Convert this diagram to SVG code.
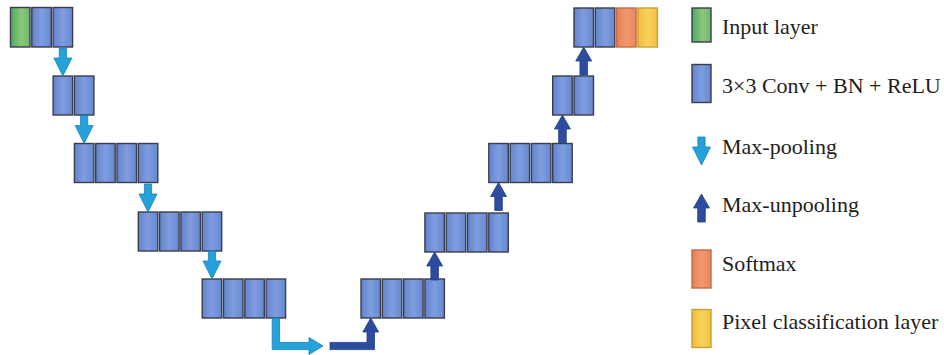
<svg xmlns="http://www.w3.org/2000/svg" width="944" height="355" viewBox="0 0 944 355">
  <defs>
    <linearGradient id="gBlue" x1="0" y1="0" x2="1" y2="0">
      <stop offset="0" stop-color="#6283cc"/>
      <stop offset="0.5" stop-color="#7f9de0"/>
      <stop offset="1" stop-color="#6688d0"/>
    </linearGradient>
    <linearGradient id="gGreen" x1="0" y1="0" x2="1" y2="0">
      <stop offset="0" stop-color="#4aa868"/>
      <stop offset="0.55" stop-color="#8cc878"/>
      <stop offset="1" stop-color="#6db870"/>
    </linearGradient>
    <linearGradient id="gOrange" x1="0" y1="0" x2="1" y2="0">
      <stop offset="0" stop-color="#e67f58"/>
      <stop offset="0.5" stop-color="#f09a6c"/>
      <stop offset="1" stop-color="#e88660"/>
    </linearGradient>
    <linearGradient id="gYellow" x1="0" y1="0" x2="1" y2="0">
      <stop offset="0" stop-color="#f0bb3c"/>
      <stop offset="0.5" stop-color="#f8d35c"/>
      <stop offset="1" stop-color="#f1c044"/>
    </linearGradient>
    <!-- arrow shapes, tip at origin -->
    <path id="downArrow" d="M-3.6,-28 H3.6 V-18 H9 L0,0 L-9,-18 H-3.6 Z"/>
    <path id="upArrow" d="M-3.8,28 H3.8 V14 H8 L0,0 L-8,14 H-3.8 Z"/>
  </defs>
  <style>
    .blk { stroke: #3b3d4c; stroke-width: 1.4; }
    .conv { fill: url(#gBlue); }
    .inp { fill: url(#gGreen); }
    .soft { fill: url(#gOrange); stroke: #c86a48; }
    .pix { fill: url(#gYellow); stroke: #c9a030; }
    .pool { fill: #23a2dc; stroke: #1b7fb6; stroke-width: 0.8; }
    .unpool { fill: #2c4c9f; stroke: #263f88; stroke-width: 0.8; }
    .lbl { font-family: "Liberation Serif", "Times New Roman", serif; font-size: 22px; fill: #1e1e1e; }
  </style>

  <rect width="944" height="355" fill="#ffffff"/>

  <!-- encoder -->
  <g id="enc1">
    <rect class="blk inp" x="10.5" y="7.5" width="19.5" height="39.5"/>
    <rect class="blk conv" x="31.8" y="7.5" width="19.5" height="39.5"/>
    <rect class="blk conv" x="53.1" y="7.5" width="19.5" height="39.5"/>
  </g>
  <g id="enc2">
    <rect class="blk conv" x="53.1" y="76" width="19.5" height="39"/>
    <rect class="blk conv" x="74.4" y="76" width="19.5" height="39"/>
  </g>
  <g id="enc3">
    <rect class="blk conv" x="74.4" y="143.5" width="19.5" height="39"/>
    <rect class="blk conv" x="95.7" y="143.5" width="19.5" height="39"/>
    <rect class="blk conv" x="117" y="143.5" width="19.5" height="39"/>
    <rect class="blk conv" x="138.3" y="143.5" width="19.5" height="39"/>
  </g>
  <g id="enc4">
    <rect class="blk conv" x="138.3" y="212" width="19.5" height="39"/>
    <rect class="blk conv" x="159.6" y="212" width="19.5" height="39"/>
    <rect class="blk conv" x="180.9" y="212" width="19.5" height="39"/>
    <rect class="blk conv" x="202.2" y="212" width="19.5" height="39"/>
  </g>
  <g id="enc5">
    <rect class="blk conv" x="202.2" y="279" width="19.5" height="39"/>
    <rect class="blk conv" x="223.5" y="279" width="19.5" height="39"/>
    <rect class="blk conv" x="244.8" y="279" width="19.5" height="39"/>
    <rect class="blk conv" x="266.1" y="279" width="19.5" height="39"/>
  </g>

  <!-- decoder -->
  <g id="dec5">
    <rect class="blk conv" x="361" y="279" width="19.5" height="39"/>
    <rect class="blk conv" x="382.3" y="279" width="19.5" height="39"/>
    <rect class="blk conv" x="403.6" y="279" width="19.5" height="39"/>
    <rect class="blk conv" x="424.9" y="279" width="19.5" height="39"/>
  </g>
  <g id="dec4">
    <rect class="blk conv" x="424.9" y="213" width="19.5" height="39"/>
    <rect class="blk conv" x="446.2" y="213" width="19.5" height="39"/>
    <rect class="blk conv" x="467.5" y="213" width="19.5" height="39"/>
    <rect class="blk conv" x="488.8" y="213" width="19.5" height="39"/>
  </g>
  <g id="dec3">
    <rect class="blk conv" x="488.8" y="143.5" width="19.5" height="39"/>
    <rect class="blk conv" x="510.1" y="143.5" width="19.5" height="39"/>
    <rect class="blk conv" x="531.4" y="143.5" width="19.5" height="39"/>
    <rect class="blk conv" x="552.7" y="143.5" width="19.5" height="39"/>
  </g>
  <g id="dec2">
    <rect class="blk conv" x="552.7" y="76" width="19.5" height="39"/>
    <rect class="blk conv" x="574" y="76" width="19.5" height="39"/>
  </g>
  <g id="dec1">
    <rect class="blk conv" x="574" y="8" width="19.5" height="39"/>
    <rect class="blk conv" x="595.3" y="8" width="19.5" height="39"/>
    <rect class="blk soft" x="616.6" y="8" width="19.5" height="39"/>
    <rect class="blk pix" x="637.9" y="8" width="19.5" height="39"/>
  </g>

  <!-- connectors -->
  <g id="connectors">
    <use href="#downArrow" class="pool" x="62.85" y="76"/>
    <use href="#downArrow" class="pool" x="84.15" y="143.5"/>
    <use href="#downArrow" class="pool" x="148" y="212"/>
    <use href="#downArrow" class="pool" x="212" y="279"/>
    <!-- bottleneck: pool to the right, then unpool up -->
    <path class="pool" d="M272.2,318 H279.5 V342.4 H309 V337.5 L323,346 L309,354.5 V349.6 H272.2 Z"/>
    <path class="unpool" d="M330,342.4 H367 V332 H362.8 L370.75,318 L378.7,332 H374.5 V349.6 H330 Z"/>
    <use href="#upArrow" class="unpool" x="434.65" y="252"/>
    <use href="#upArrow" class="unpool" x="498.55" y="182.5"/>
    <use href="#upArrow" class="unpool" x="562.45" y="115"/>
    <use href="#upArrow" class="unpool" x="583.75" y="47"/>
  </g>

  <!-- legend -->
  <g id="legend-input">
    <rect class="blk inp" x="692" y="8" width="19" height="34" stroke="#4a9060"/>
    <text class="lbl" x="722" y="34">Input layer</text>
  </g>
  <g id="legend-conv">
    <rect class="blk conv" x="692" y="64.5" width="19" height="38"/>
    <text class="lbl" x="722" y="93">3×3 Conv + BN + ReLU</text>
  </g>
  <g id="legend-pool">
    <use href="#downArrow" class="pool" x="701.5" y="165"/>
    <text class="lbl" x="722" y="154">Max-pooling</text>
  </g>
  <g id="legend-unpool">
    <use href="#upArrow" class="unpool" x="701.5" y="194"/>
    <text class="lbl" x="722" y="212">Max-unpooling</text>
  </g>
  <g id="legend-softmax">
    <rect class="blk soft" x="692" y="250" width="19" height="38"/>
    <text class="lbl" x="722" y="271">Softmax</text>
  </g>
  <g id="legend-pixel">
    <rect class="blk pix" x="692" y="309.5" width="19" height="38"/>
    <text class="lbl" x="722" y="329">Pixel classification layer</text>
  </g>
</svg>
